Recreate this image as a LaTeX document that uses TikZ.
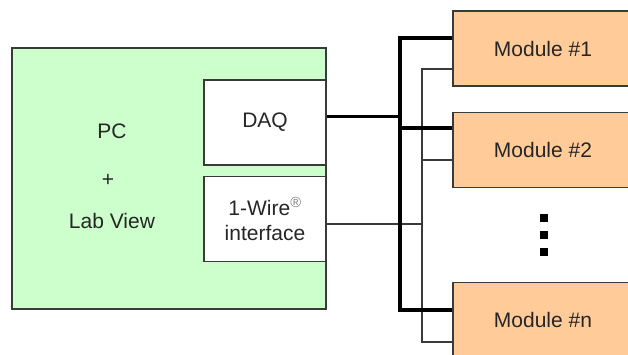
\documentclass[tikz,border=0pt]{standalone}
\usepackage{fontspec}
\setmainfont{Liberation Sans}
\usetikzlibrary{positioning,calc}
\definecolor{pcgreen}{HTML}{CCFFCC}
\definecolor{modorange}{HTML}{FFCC99}
\definecolor{edgegray}{HTML}{3A3A3A}

\begin{document}
\begin{tikzpicture}[
  x=1pt, y=-1pt,
  every node/.style={font=\fontsize{21}{25}\selectfont, align=center, text=black!85},
  pcblock/.style={draw=edgegray, line width=1.2pt, fill=pcgreen, minimum width=314pt, minimum height=261pt, inner sep=0pt},
  ioblock/.style={draw=edgegray, line width=1.2pt, fill=white, minimum width=122pt, minimum height=85pt, inner sep=0pt},
  modblock/.style={draw=edgegray, line width=1.2pt, fill=modorange, minimum width=180pt, minimum height=75pt, inner sep=0pt},
  dotsq/.style={fill=black, minimum size=8pt, inner sep=0pt},
  thickbus/.style={line width=3.8pt, draw=black},
  thinbus/.style={line width=1.2pt, draw=edgegray}
]
  \useasboundingbox (0,0) rectangle (628,355);

  % PC side
  \node[pcblock] (pc) at (169,178.5) {};
  \node (pcname) at (112,131) {PC};
  \node (pcplus) at (108,180) {+};
  \node (pclab) at (112,221) {Lab View};
  \node[ioblock] (daq) at (265,122.5) {DAQ};
  \node[ioblock] (onewire) at (265,219) {1-Wire\textsuperscript{\textcolor{black!50}{\textregistered}}\\interface};

  % modules
  \node[modblock] (mod1) at (543,48.5) {Module \#1};
  \node[modblock] (mod2) at (543,150) {Module \#2};
  \node[modblock] (modn) at (543,320) {Module \#n};
  \foreach \y [count=\i] in {218,235,252}
    \node[dotsq] (dot\i) at (544,\y) {};

  % bus corners
  \coordinate (b1) at (400,38);
  \coordinate (b2) at (400,128);
  \coordinate (bn) at (400,310);
  \coordinate (w0) at (422,224);
  \coordinate (w1) at (422,69);
  \coordinate (w2) at (422,160);
  \coordinate (wn) at (422,342);

  % 1-Wire lines
  \draw[thinbus] ([yshift=-5pt]onewire.east) -- (w0);
  \draw[thinbus] (mod1.west |- w1) -- (w1) -- (wn) -- (modn.west |- wn);
  \draw[thinbus] (w2) -- (mod2.west |- w2);

  % DAQ lines
  \draw[thickbus] ([yshift=6pt]daq.east) -- ([yshift=6pt]daq.east -| b1);
  \draw[thickbus] (mod1.west |- b1) -- (b1) -- (bn) -- (modn.west |- bn);
  \draw[thickbus] (b2) -- (mod2.west |- b2);
\end{tikzpicture}
\end{document}
